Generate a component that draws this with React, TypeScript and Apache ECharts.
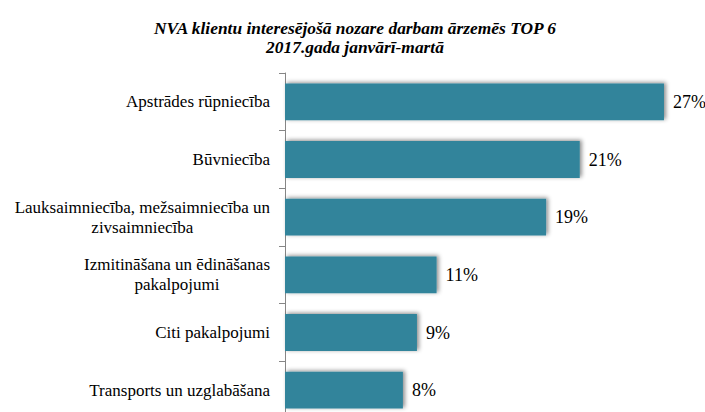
import React, { useEffect, useRef } from "react";
import * as echarts from "echarts";

const categories = [
  "Apstrādes rūpniecība",
  "Būvniecība",
  "Lauksaimniecība, mežsaimniecība un\nzivsaimniecība",
  "Izmitināšana un ēdināšanas\npakalpojumi",
  "Citi pakalpojumi",
  "Transports un uzglabāšana",
];
const values = [27.0, 21.0, 18.6, 10.8, 9.4, 8.4];
const titleLines = [
  "NVA klientu interesējošā nozare darbam ārzemēs TOP 6",
  "2017.gada janvārī-martā",
];

const FONT = "Liberation Serif";

export default function App() {
  const ref = useRef<HTMLDivElement>(null);
  useEffect(() => {
    if (!ref.current) return;
    const chart = echarts.init(ref.current, undefined, { renderer: "svg" });
    chart.setOption({
      animation: false,
      backgroundColor: "#ffffff",
      textStyle: { fontFamily: FONT },
      title: {
        text: titleLines.join("\n"),
        left: 350,
        textAlign: "center",
        top: 13,
        textStyle: {
          fontFamily: FONT,
          fontSize: 17.4,
          fontWeight: "bold",
          fontStyle: "italic",
          color: "#000",
          lineHeight: 19.5,
        },
      },
      grid: { left: 285, top: 73, right: 27, bottom: 11 },
      xAxis: {
        type: "value",
        min: 0,
        max: 28,
        show: false,
      },
      yAxis: {
        type: "category",
        inverse: true,
        data: categories,
        axisLine: { show: true, lineStyle: { color: "#868686", width: 1 } },
        axisTick: { show: true, length: 6, inside: false, lineStyle: { color: "#868686" } },
        axisLabel: {
          margin: 15,
          fontFamily: FONT,
          fontSize: 17,
          color: "#000",
          lineHeight: 20,
          formatter: (v: string) =>
            v
              .split("\n")
              .map((l) => `{c|${l}}`)
              .join("\n"),
          rich: {
            c: {
              align: "center",
              fontFamily: FONT,
              fontSize: 17,
              color: "#000",
              lineHeight: 20,
            },
          },
        },
        splitLine: { show: false },
      },
      series: [
        {
          type: "bar",
          data: values,
          barCategoryGap: "36%",
          itemStyle: {
            color: "#31849B",
            shadowColor: "rgba(0,0,0,0.45)",
            shadowBlur: 4,
            shadowOffsetX: 2,
            shadowOffsetY: -1,
          },
          label: {
            show: true,
            position: "right",
            distance: 9,
            fontFamily: FONT,
            fontSize: 18,
            color: "#000",
            formatter: (p: any) => `${Math.round(p.value)}%`,
          },
        },
      ],
    });
    return () => chart.dispose();
  }, []);
  return (
    <div
      ref={ref}
      style={{ position: "fixed", left: 0, top: 0, width: 705, height: 430, background: "#fff" }}
    />
  );
}
